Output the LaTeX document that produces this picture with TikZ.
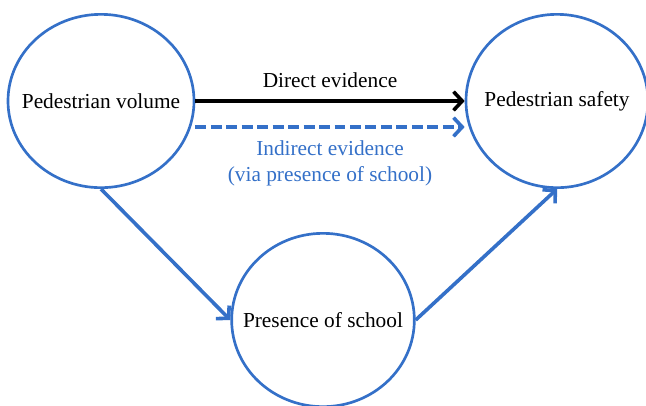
\documentclass[tikz,border=0pt]{standalone}
\usepackage{fontspec}
\setmainfont{Liberation Serif}
\usetikzlibrary{arrows.meta,shapes.geometric,positioning}
\definecolor{causalblue}{RGB}{52,112,200}

\begin{document}
\begin{tikzpicture}[
  x=0.75pt,y=-0.75pt,
  every node/.style={font=\fontsize{16}{19.5}\selectfont},
  var/.style={ellipse,draw=causalblue,line width=2pt,inner sep=0pt,
              minimum width=138pt,minimum height=130pt,label=center:#1},
  arr/.style={-{Straight Barb[length=6.5pt,width=14pt]},line width=2.7pt},
  blarr/.style={arr,causalblue},
  evid/.style={dash pattern=on 8.2pt off 3.4pt},
]
\useasboundingbox (0,0) rectangle (646,405);

%% ── Variables ────────────────────────────────────────────────────────────
\node[var=Pedestrian volume,minimum width=139.5pt] (vol) at (101,101) {};
\node[var=Pedestrian safety,minimum width=136.5pt] (safe) at (557,101) {};
\node[var=Presence of school,minimum width=137pt] (school) at (323,320) {};

%% ── Evidence paths ───────────────────────────────────────────────────────
\draw[arr] (vol.east) -- node[above=5.6pt]{Direct evidence} (safe.west);

\draw[blarr,evid] ([yshift=-19.5pt]vol.east) -- node[below=5.6pt,align=center,text=causalblue]
  {Indirect evidence\\(via presence of school)} ([yshift=-19.5pt]safe.west);

%% ── Mediator ─────────────────────────────────────────────────────────────
\draw[blarr] (vol.south) -- (school.west);
\draw[blarr] (school.east) -- (safe.south);

\end{tikzpicture}
\end{document}
